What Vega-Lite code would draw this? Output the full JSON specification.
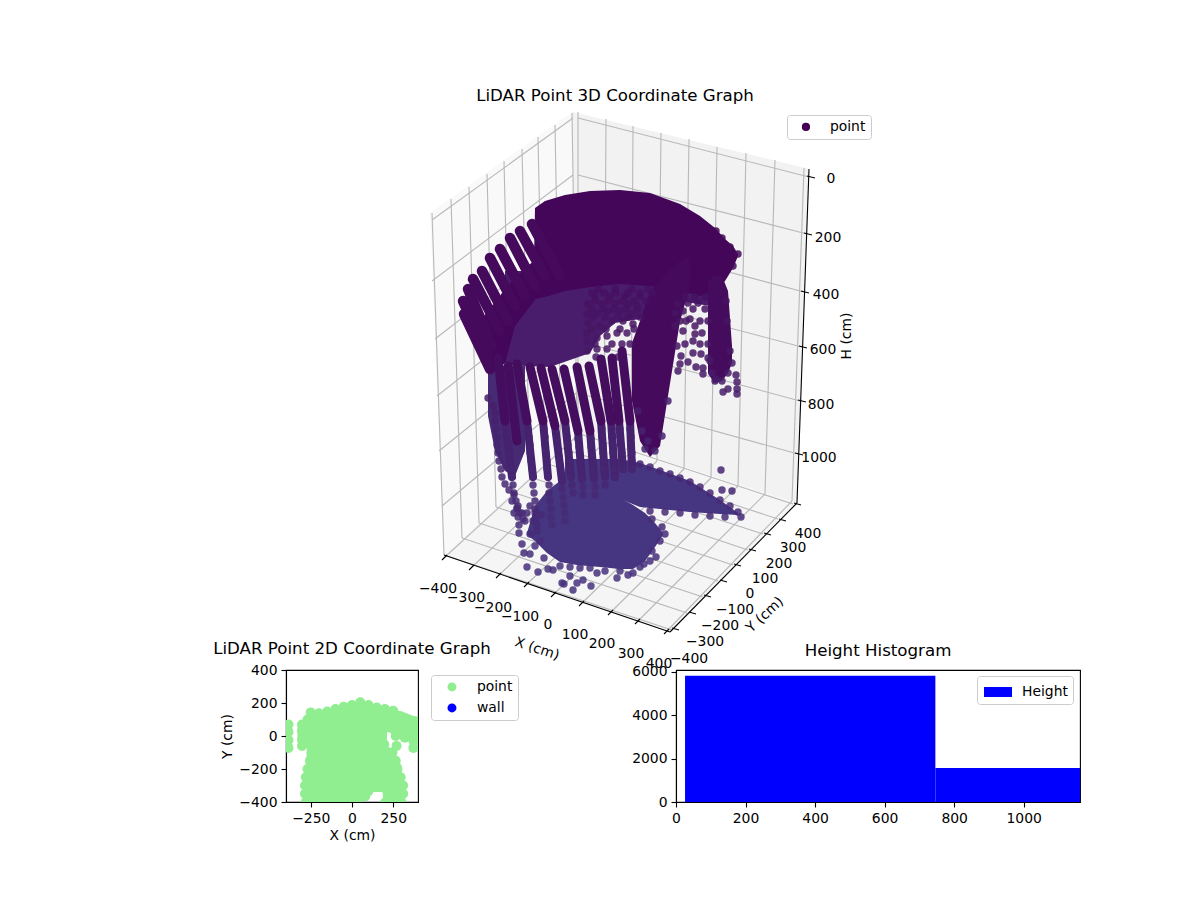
{
"$schema":"https://vega.github.io/schema/vega-lite/v6.json",
"background":"white",
"padding":{"left":212,"top":88,"right":100,"bottom":40},
"config":{"font":"DejaVu Sans","view":{"stroke":"black","strokeWidth":1.1},
"title":{"font":"DejaVu Sans","fontSize":16.67,"fontWeight":"normal","offset":5,"color":"black"},
"axis":{"grid":false,"domainColor":"black","domainWidth":1.1,"tickColor":"black","tickWidth":1.1,"tickSize":5,"labelFont":"DejaVu Sans","labelFontSize":13.9,"labelColor":"black","labelPadding":4,"labelOverlap":false,"labelFlush":false,"titleFont":"DejaVu Sans","titleFontSize":13.9,"titleFontWeight":"normal","titleColor":"black"},
"legend":{"fillColor":"white","strokeColor":"#cccccc","cornerRadius":3,"padding":5,"labelFont":"DejaVu Sans","labelFontSize":13.9,"labelColor":"black","title":null}},
"datasets":{
"poly":[
{"m":"left","x":430,"y":212,"y2":212},{"m":"left","x":444,"y":202,"y2":554},{"m":"left","x":572,"y":111,"y2":437},{"m":"left","x":577,"y":432,"y2":432},
{"m":"right","x":572,"y":111,"y2":111},{"m":"right","x":577,"y":112,"y2":432},{"m":"right","x":797,"y":165,"y2":502},{"m":"right","x":809,"y":168,"y2":168},
{"m":"floor","x":444,"y":554,"y2":554},{"m":"floor","x":577,"y":432,"y2":599},{"m":"floor","x":670,"y":462,"y2":631},{"m":"floor","x":797,"y":502,"y2":502}],
"mass":[
{"m":"lobe","x":565,"y":458,"y2":492},{"m":"lobe","x":590,"y":458,"y2":492},{"m":"lobe","x":620,"y":458,"y2":498},{"m":"lobe","x":640,"y":462,"y2":506},{"m":"lobe","x":660,"y":469,"y2":508},{"m":"lobe","x":690,"y":480,"y2":511},{"m":"lobe","x":720,"y":499,"y2":513},{"m":"lobe","x":738,"y":512,"y2":514},
{"m":"blob","x":527,"y":532,"y2":534},{"m":"blob","x":535,"y":505,"y2":540},{"m":"blob","x":547,"y":490,"y2":552},{"m":"blob","x":560,"y":480,"y2":561},{"m":"blob","x":577,"y":480,"y2":564},{"m":"blob","x":600,"y":485,"y2":566},{"m":"blob","x":620,"y":497,"y2":568},{"m":"blob","x":633,"y":504,"y2":568},{"m":"blob","x":645,"y":512,"y2":560},{"m":"blob","x":655,"y":522,"y2":546},{"m":"blob","x":663,"y":532,"y2":534},
{"m":"low","x":488,"y":370,"y2":415},{"m":"low","x":495,"y":365,"y2":450},{"m":"low","x":505,"y":365,"y2":470},{"m":"low","x":515,"y":365,"y2":475},{"m":"low","x":525,"y":365,"y2":450},
{"m":"mid","x":505,"y":270,"y2":364},{"m":"mid","x":550,"y":270,"y2":366},{"m":"mid","x":590,"y":270,"y2":352},{"m":"mid","x":600,"y":270,"y2":335},{"m":"mid","x":615,"y":270,"y2":322},{"m":"mid","x":640,"y":270,"y2":318},{"m":"mid","x":680,"y":270,"y2":300},{"m":"mid","x":710,"y":270,"y2":305},
{"m":"dome","x":470,"y":318,"y2":335},{"m":"dome","x":478,"y":328,"y2":352},{"m":"dome","x":483,"y":318,"y2":360},{"m":"dome","x":488,"y":308,"y2":368},{"m":"dome","x":497,"y":300,"y2":368},{"m":"dome","x":505,"y":287,"y2":362},{"m":"dome","x":515,"y":278,"y2":325},{"m":"dome","x":525,"y":267,"y2":312},{"m":"dome","x":534,"y":260,"y2":300},{"m":"dome","x":535,"y":207,"y2":298},{"m":"dome","x":545,"y":200,"y2":296},{"m":"dome","x":565,"y":194,"y2":290},{"m":"dome","x":590,"y":190,"y2":286},{"m":"dome","x":620,"y":189,"y2":283},{"m":"dome","x":650,"y":192,"y2":285},{"m":"dome","x":680,"y":203,"y2":290},{"m":"dome","x":700,"y":215,"y2":295},{"m":"dome","x":715,"y":227,"y2":290},{"m":"dome","x":725,"y":238,"y2":280},{"m":"dome","x":733,"y":245,"y2":267},{"m":"dome","x":738,"y":253,"y2":255},
{"m":"band","x":708,"y":280,"y2":372},{"m":"band","x":714,"y":275,"y2":382},{"m":"band","x":722,"y":275,"y2":380},{"m":"band","x":728,"y":290,"y2":372},{"m":"band","x":732,"y":345,"y2":362},
{"m":"col","x":632,"y":342,"y2":400},{"m":"col","x":640,"y":320,"y2":440},{"m":"col","x":650,"y":290,"y2":456},{"m":"col","x":660,"y":280,"y2":445},{"m":"col","x":668,"y":270,"y2":395},{"m":"col","x":680,"y":260,"y2":320},{"m":"col","x":690,"y":255,"y2":285}],
"grid":[
{"x":432,"y":212,"x2":444,"y2":554},{"x":451,"y":198,"x2":462,"y2":537},{"x":469,"y":186,"x2":479,"y2":522},{"x":487,"y":173,"x2":496,"y2":506},{"x":504,"y":160,"x2":512,"y2":491},{"x":522,"y":148,"x2":530,"y2":476},{"x":538,"y":136,"x2":545,"y2":462},{"x":555,"y":124,"x2":561,"y2":447},{"x":572,"y":112,"x2":577,"y2":432},
{"x":578,"y":111,"x2":578,"y2":434},{"x":606,"y":118,"x2":604,"y2":442},{"x":633,"y":125,"x2":631,"y2":451},{"x":661,"y":132,"x2":657,"y2":460},{"x":689,"y":138,"x2":684,"y2":468},{"x":717,"y":146,"x2":711,"y2":477},{"x":746,"y":152,"x2":738,"y2":485},{"x":775,"y":159,"x2":765,"y2":493},{"x":804,"y":167,"x2":792,"y2":500},
{"x":432,"y":219,"x2":573,"y2":117},{"x":432,"y":280,"x2":573,"y2":174},{"x":435,"y":338,"x2":573,"y2":231},{"x":437,"y":395,"x2":574,"y2":287},{"x":439,"y":450,"x2":575,"y2":340},{"x":442,"y":505,"x2":576,"y2":392},
{"x":578,"y":117,"x2":809,"y2":176},{"x":578,"y":174,"x2":807,"y2":233},{"x":578,"y":231,"x2":804,"y2":291},{"x":578,"y":287,"x2":802,"y2":346},{"x":578,"y":340,"x2":800,"y2":400},{"x":578,"y":392,"x2":798,"y2":453},
{"x":445,"y":556,"x2":578,"y2":434},{"x":472,"y":566,"x2":604,"y2":442},{"x":499,"y":574,"x2":631,"y2":451},{"x":527,"y":583,"x2":657,"y2":460},{"x":554,"y":593,"x2":684,"y2":468},{"x":582,"y":602,"x2":711,"y2":477},{"x":611,"y":611,"x2":738,"y2":485},{"x":638,"y":620,"x2":765,"y2":493},{"x":667,"y":630,"x2":792,"y2":500},
{"x":444,"y":554,"x2":672,"y2":629},{"x":462,"y":537,"x2":687,"y2":612},{"x":479,"y":522,"x2":703,"y2":596},{"x":496,"y":506,"x2":718,"y2":580},{"x":512,"y":491,"x2":733,"y2":564},{"x":530,"y":476,"x2":748,"y2":549},{"x":545,"y":462,"x2":763,"y2":533},{"x":561,"y":447,"x2":778,"y2":518},{"x":577,"y":432,"x2":793,"y2":503}],
"axes":[
{"x":444,"y":554,"x2":670,"y2":631},{"x":670,"y":631,"x2":797,"y2":502},{"x":809,"y":168,"x2":797,"y2":502},
{"x":447,"y":554,"x2":442,"y2":559},{"x":474,"y":564,"x2":469,"y2":569},{"x":501,"y":572,"x2":496,"y2":577},{"x":529,"y":581,"x2":524,"y2":586},{"x":556,"y":591,"x2":551,"y2":596},{"x":584,"y":600,"x2":579,"y2":605},{"x":613,"y":609,"x2":608,"y2":614},{"x":640,"y":618,"x2":635,"y2":623},{"x":669,"y":628,"x2":664,"y2":633},
{"x":794,"y":502,"x2":801,"y2":504},{"x":779,"y":518,"x2":786,"y2":520},{"x":764,"y":532,"x2":771,"y2":534},{"x":749,"y":548,"x2":756,"y2":550},{"x":734,"y":563,"x2":741,"y2":565},{"x":720,"y":579,"x2":727,"y2":581},{"x":704,"y":594,"x2":711,"y2":596},{"x":689,"y":611,"x2":696,"y2":613},{"x":672,"y":627,"x2":679,"y2":629},
{"x":807,"y":175,"x2":815,"y2":177},{"x":804,"y":232,"x2":812,"y2":234},{"x":801,"y":290,"x2":809,"y2":292},{"x":799,"y":345,"x2":807,"y2":347},{"x":798,"y":399,"x2":806,"y2":401},{"x":795,"y":452,"x2":803,"y2":454}],
"labels":[
{"x":438,"y":588,"t":"−400"},{"x":466,"y":597,"t":"−300"},{"x":493,"y":607,"t":"−200"},{"x":520,"y":616,"t":"−100"},{"x":548,"y":624,"t":"0"},{"x":575,"y":634,"t":"100"},{"x":602,"y":643,"t":"200"},{"x":631,"y":653,"t":"300"},{"x":659,"y":663,"t":"400"},
{"x":689,"y":658,"t":"−400"},{"x":705,"y":641,"t":"−300"},{"x":720,"y":625,"t":"−200"},{"x":735,"y":609,"t":"−100"},{"x":750,"y":593,"t":"0"},{"x":765,"y":578,"t":"100"},{"x":779,"y":563,"t":"200"},{"x":793,"y":547,"t":"300"},{"x":808,"y":533,"t":"400"},
{"x":831,"y":178,"t":"0"},{"x":828,"y":237,"t":"200"},{"x":826,"y":294,"t":"400"},{"x":823,"y":349,"t":"600"},{"x":821,"y":404,"t":"800"},{"x":819,"y":457,"t":"1000"}],
"streaksL":[
{"x":532,"y":223,"x2":560,"y2":275},{"x":520,"y":230,"x2":545,"y2":275},{"x":510,"y":237,"x2":535,"y2":285},{"x":500,"y":248,"x2":525,"y2":295},{"x":490,"y":257,"x2":515,"y2":305},{"x":482,"y":270,"x2":508,"y2":320},{"x":473,"y":278,"x2":500,"y2":330},{"x":468,"y":288,"x2":492,"y2":345},{"x":463,"y":300,"x2":488,"y2":355},{"x":464,"y":313,"x2":490,"y2":368}],
"streaksF":[
{"x":498,"y":357,"x2":505,"y2":420},{"x":508,"y":365,"x2":517,"y2":440},{"x":517,"y":363,"x2":527,"y2":420},{"x":530,"y":366,"x2":543,"y2":420},{"x":541,"y":367,"x2":555,"y2":425},{"x":552,"y":368,"x2":565,"y2":420},{"x":564,"y":368,"x2":578,"y2":430},{"x":577,"y":366,"x2":590,"y2":430},{"x":589,"y":365,"x2":601,"y2":420},{"x":601,"y":358,"x2":611,"y2":420},{"x":612,"y":357,"x2":619,"y2":420},{"x":622,"y":350,"x2":630,"y2":420}],
"streaksLow":[
{"x":505,"y":420,"x2":512,"y2":476},{"x":527,"y":420,"x2":533,"y2":476},{"x":543,"y":420,"x2":548,"y2":476},{"x":555,"y":425,"x2":562,"y2":480},{"x":565,"y":420,"x2":571,"y2":476},{"x":578,"y":430,"x2":582,"y2":478},{"x":590,"y":430,"x2":594,"y2":478},{"x":601,"y":420,"x2":605,"y2":476},{"x":611,"y":420,"x2":615,"y2":476},{"x":619,"y":420,"x2":623,"y2":468},{"x":630,"y":420,"x2":632,"y2":468}],
"pts":[
{"x":519,"y":532},{"x":522,"y":543},{"x":524,"y":552},{"x":527,"y":566},{"x":538,"y":571},{"x":544,"y":557},{"x":548,"y":568},{"x":553,"y":569},{"x":562,"y":582},{"x":564,"y":583},{"x":573,"y":589},{"x":577,"y":582},{"x":583,"y":579},{"x":591,"y":585},{"x":570,"y":575},{"x":580,"y":567},{"x":597,"y":572},{"x":617,"y":577},{"x":628,"y":574},{"x":633,"y":572},{"x":644,"y":563},{"x":650,"y":560},{"x":656,"y":556},{"x":665,"y":533},{"x":530,"y":533},{"x":535,"y":520},{"x":525,"y":520},{"x":522,"y":512},{"x":517,"y":507},{"x":535,"y":545},{"x":530,"y":553},{"x":540,"y":540},{"x":537,"y":530},
{"x":560,"y":565},{"x":570,"y":566},{"x":590,"y":567},{"x":605,"y":570},{"x":620,"y":570},{"x":640,"y":566},{"x":652,"y":550},{"x":660,"y":540},{"x":662,"y":526},{"x":652,"y":518},
{"x":640,"y":463},{"x":650,"y":466},{"x":660,"y":470},{"x":670,"y":473},{"x":680,"y":477},{"x":690,"y":481},{"x":700,"y":486},{"x":710,"y":492},{"x":720,"y":499},{"x":730,"y":505},{"x":738,"y":511},{"x":650,"y":510},{"x":665,"y":511},{"x":680,"y":512},{"x":695,"y":514},{"x":710,"y":515},{"x":725,"y":516},{"x":741,"y":516},
{"x":737,"y":393},{"x":723,"y":391},{"x":728,"y":388},{"x":737,"y":388},{"x":737,"y":381},{"x":736,"y":374},{"x":715,"y":380},{"x":732,"y":362},{"x":678,"y":370},{"x":680,"y":363},{"x":688,"y":361},{"x":696,"y":366},{"x":703,"y":367},{"x":703,"y":373},{"x":681,"y":355},{"x":693,"y":352},{"x":701,"y":353},{"x":708,"y":357},{"x":677,"y":345},{"x":685,"y":343},{"x":693,"y":340},{"x":700,"y":343},{"x":708,"y":343},{"x":695,"y":333},{"x":683,"y":330},{"x":702,"y":332},{"x":680,"y":320},{"x":690,"y":318},{"x":700,"y":320},{"x":708,"y":320},{"x":683,"y":310},{"x":693,"y":308},{"x":705,"y":308},{"x":678,"y":303},{"x":721,"y":469},{"x":722,"y":489},{"x":732,"y":490},
{"x":685,"y":296},{"x":695,"y":296},{"x":705,"y":296},{"x":688,"y":302},{"x":698,"y":302},{"x":675,"y":312},{"x":686,"y":320},{"x":695,"y":325},{"x":675,"y":325},
{"x":710,"y":360},{"x":712,"y":372},{"x":716,"y":378},{"x":722,"y":380},{"x":728,"y":372},{"x":730,"y":350},{"x":727,"y":320},{"x":726,"y":300},
{"x":642,"y":430},{"x":648,"y":440},{"x":655,"y":450},{"x":662,"y":435},{"x":668,"y":400},{"x":645,"y":448},{"x":638,"y":410},
{"x":587,"y":350},{"x":587,"y":340},{"x":597,"y":348},{"x":607,"y":348},{"x":587,"y":332},{"x":597,"y":337},{"x":607,"y":335},{"x":617,"y":332},{"x":627,"y":332},{"x":588,"y":322},{"x":600,"y":325},{"x":612,"y":320},{"x":623,"y":320},{"x":633,"y":323},{"x":587,"y":313},{"x":597,"y":312},{"x":608,"y":310},{"x":620,"y":310},{"x":632,"y":313},{"x":588,"y":303},{"x":602,"y":303},{"x":615,"y":302},{"x":628,"y":303},{"x":637,"y":305},{"x":595,"y":295},{"x":610,"y":295},{"x":625,"y":295},{"x":640,"y":295},{"x":598,"y":288},{"x":615,"y":288},{"x":632,"y":288},{"x":648,"y":288},
{"x":592,"y":292},{"x":604,"y":292},{"x":616,"y":292},{"x":628,"y":292},{"x":640,"y":292},{"x":652,"y":292},{"x":595,"y":300},{"x":608,"y":300},{"x":622,"y":300},{"x":634,"y":300},{"x":646,"y":300},{"x":592,"y":308},{"x":603,"y":308},{"x":614,"y":308},{"x":626,"y":308},{"x":638,"y":308},{"x":593,"y":316},{"x":605,"y":316},{"x":618,"y":316},{"x":628,"y":316},{"x":640,"y":316},{"x":592,"y":328},{"x":606,"y":328},{"x":620,"y":328},{"x":634,"y":328},{"x":595,"y":343},{"x":612,"y":343},{"x":622,"y":343},{"x":630,"y":343},{"x":596,"y":356},{"x":618,"y":356},
{"x":506,"y":428},{"x":507,"y":436},{"x":508,"y":444},{"x":509,"y":452},{"x":510,"y":460},{"x":511,"y":468},{"x":512,"y":476},{"x":513,"y":484},{"x":514,"y":492},{"x":516,"y":500},{"x":517,"y":508},{"x":518,"y":516},{"x":519,"y":524},
{"x":528,"y":428},{"x":529,"y":436},{"x":530,"y":444},{"x":530,"y":452},{"x":531,"y":460},{"x":532,"y":468},{"x":533,"y":476},{"x":533,"y":484},{"x":534,"y":492},{"x":535,"y":500},{"x":535,"y":508},{"x":536,"y":516},{"x":537,"y":524},
{"x":544,"y":428},{"x":545,"y":436},{"x":545,"y":444},{"x":546,"y":452},{"x":547,"y":460},{"x":547,"y":468},{"x":548,"y":476},{"x":549,"y":484},{"x":549,"y":492},{"x":550,"y":500},{"x":551,"y":508},{"x":551,"y":516},{"x":552,"y":524},
{"x":556,"y":432},{"x":557,"y":440},{"x":558,"y":448},{"x":559,"y":456},{"x":560,"y":464},{"x":561,"y":472},{"x":562,"y":480},{"x":562,"y":488},{"x":563,"y":496},{"x":564,"y":504},{"x":565,"y":512},{"x":565,"y":520},
{"x":566,"y":428},{"x":567,"y":436},{"x":568,"y":444},{"x":569,"y":452},{"x":570,"y":460},{"x":570,"y":468},{"x":571,"y":476},{"x":572,"y":484},{"x":573,"y":492},
{"x":578,"y":438},{"x":579,"y":446},{"x":580,"y":454},{"x":580,"y":462},{"x":581,"y":470},{"x":582,"y":478},{"x":583,"y":486},{"x":583,"y":494},
{"x":591,"y":438},{"x":591,"y":446},{"x":592,"y":454},{"x":593,"y":462},{"x":593,"y":470},{"x":594,"y":478},{"x":595,"y":486},{"x":595,"y":494},
{"x":602,"y":428},{"x":602,"y":436},{"x":603,"y":444},{"x":603,"y":452},{"x":604,"y":460},{"x":604,"y":468},{"x":605,"y":476},{"x":605,"y":484},
{"x":612,"y":428},{"x":612,"y":436},{"x":613,"y":444},{"x":613,"y":452},{"x":614,"y":460},{"x":614,"y":468},{"x":615,"y":476},
{"x":620,"y":428},{"x":620,"y":436},{"x":621,"y":444},{"x":622,"y":452},{"x":622,"y":460},{"x":623,"y":468},
{"x":630,"y":428},{"x":631,"y":436},{"x":631,"y":444},{"x":632,"y":452},{"x":632,"y":460},{"x":632,"y":468},
{"x":488,"y":397},{"x":493,"y":405},{"x":495,"y":412},{"x":495,"y":420},{"x":496,"y":428},{"x":497,"y":436},{"x":497,"y":444},{"x":498,"y":452},{"x":499,"y":460},{"x":501,"y":468},{"x":502,"y":476},{"x":505,"y":483},{"x":509,"y":489},{"x":514,"y":494},{"x":512,"y":500},{"x":518,"y":505},{"x":520,"y":512},{"x":514,"y":512},{"x":523,"y":518},{"x":530,"y":505},{"x":535,"y":512},{"x":541,"y":514},{"x":527,"y":512},{"x":533,"y":520},
{"x":738,"y":253},{"x":733,"y":265},{"x":730,"y":246},{"x":722,"y":237},{"x":716,"y":230}],
"flatArea":[
{"g":"a","x":-275,"y":100,"y2":-400},{"g":"a","x":-250,"y":140,"y2":-400},{"g":"a","x":-100,"y":160,"y2":-400},{"g":"a","x":0,"y":185,"y2":-400},{"g":"a","x":50,"y":200,"y2":-400},{"g":"a","x":100,"y":185,"y2":-390},{"g":"a","x":112,"y":180,"y2":-340},{"g":"a","x":185,"y":165,"y2":-340},{"g":"a","x":190,"y":160,"y2":-400},{"g":"a","x":212,"y":150,"y2":-400},
{"g":"b","x":212,"y":-60,"y2":-400},{"g":"b","x":250,"y":-80,"y2":-400},{"g":"b","x":300,"y":-180,"y2":-400},
{"g":"c","x":215,"y":100,"y2":45},{"g":"c","x":238,"y":100,"y2":10},{"g":"c","x":340,"y":95,"y2":0},{"g":"c","x":400,"y":85,"y2":0},
{"g":"d","x":-330,"y":60,"y2":-40},{"g":"d","x":-280,"y":100,"y2":-40},
{"g":"e","x":205,"y":165,"y2":40},{"g":"e","x":300,"y":150,"y2":40},{"g":"e","x":400,"y":110,"y2":40}],
"flat":[
{"x":-385,"y":70},{"x":-385,"y":25},{"x":-385,"y":-25},{"x":-385,"y":-72},{"x":-303,"y":70},{"x":-303,"y":30},{"x":-303,"y":-20},{"x":-303,"y":-60},{"x":270,"y":-60},{"x":372,"y":-72},{"x":372,"y":-30},{"x":320,"y":-10},
{"x":-50,"y":178},{"x":0,"y":188},{"x":50,"y":205},{"x":100,"y":188},
{"x":-250,"y":143},{"x":-200,"y":138},{"x":-150,"y":148},{"x":-100,"y":163},{"x":150,"y":173},{"x":200,"y":163},{"x":250,"y":153},
{"x":-270,"y":100},{"x":280,"y":105},{"x":330,"y":95},{"x":385,"y":90},
{"x":-270,"y":50},{"x":230,"y":50},{"x":280,"y":50},{"x":330,"y":50},{"x":385,"y":50},
{"x":-270,"y":0},{"x":180,"y":0},{"x":265,"y":0},{"x":310,"y":10},{"x":375,"y":0},
{"x":-255,"y":-50},{"x":195,"y":-50},
{"x":-245,"y":-100},{"x":245,"y":-100},
{"x":-255,"y":-150},{"x":265,"y":-150},
{"x":-270,"y":-200},{"x":275,"y":-200},
{"x":-280,"y":-250},{"x":270,"y":-250},{"x":295,"y":-250},
{"x":-285,"y":-300},{"x":-235,"y":-300},{"x":265,"y":-300},{"x":310,"y":-300},
{"x":-285,"y":-350},{"x":-235,"y":-350},{"x":100,"y":-335},{"x":265,"y":-350},{"x":310,"y":-350},
{"x":-280,"y":-400},{"x":-230,"y":-400},{"x":-180,"y":-400},{"x":-130,"y":-400},{"x":-80,"y":-400},{"x":-30,"y":-365},{"x":30,"y":-365},{"x":80,"y":-365},{"x":200,"y":-405},{"x":250,"y":-400},{"x":300,"y":-400}],
"bars":[{"x":26,"x2":746,"c":5815},{"x":746,"x2":1162,"c":1570}]
},
"bounds":"flush",
"spacing":1,
"vconcat":[
{
"title":{"text":"LiDAR Point 3D Coordinate Graph","anchor":"middle","dx":-68,"offset":1},
"width":794,"height":563,
"view":{"stroke":null},
"encoding":{
"x":{"field":"x","type":"quantitative","axis":null,"scale":{"domain":[286,1080],"nice":false,"zero":false}},
"y":{"field":"y","type":"quantitative","axis":null,"scale":{"domain":[105,668],"nice":false,"zero":false,"reverse":true}}},
"layer":[
{"data":{"name":"poly"},"mark":{"type":"area"},"encoding":{"y2":{"field":"y2"},"fill":{"field":"m","type":"nominal","legend":null,"scale":{"domain":["left","right","floor","lobe","blob","low","mid","dome","band","col"],"range":["#f9f9f9","#f2f2f2","#f5f5f5","#463580","#463580","#472a74","#4a1c6c","#440658","#450b5c","#450a5c"]}}}},
{"data":{"name":"grid"},"mark":{"type":"rule","color":"#b8b8b8","strokeWidth":1.1},"encoding":{"x2":{"field":"x2"},"y2":{"field":"y2"}}},
{"data":{"name":"axes"},"mark":{"type":"rule","color":"black","strokeWidth":1.1},"encoding":{"x2":{"field":"x2"},"y2":{"field":"y2"}}},
{"data":{"name":"mass"},"mark":{"type":"area"},"encoding":{"y2":{"field":"y2"},"fill":{"field":"m","type":"nominal","legend":null}}},
{"data":{"name":"streaksLow"},"mark":{"type":"rule","color":"#46236f","strokeWidth":8,"strokeCap":"round"},"encoding":{"x2":{"field":"x2"},"y2":{"field":"y2"}}},
{"data":{"name":"streaksL"},"mark":{"type":"rule","color":"#450a5c","strokeWidth":10.5,"strokeCap":"round"},"encoding":{"x2":{"field":"x2"},"y2":{"field":"y2"}}},
{"data":{"name":"pts"},"mark":{"type":"point","filled":true,"size":55,"opacity":0.85},"encoding":{
"color":{"field":"y","type":"quantitative","legend":null,"scale":{"domain":[190,590],"range":["#440154","#46327e"]}},
"shape":{"datum":"point","scale":{"domain":["point"],"range":["circle"]},"legend":{"orient":"none","legendX":501,"legendY":9,"symbolFillColor":"#440154","symbolStrokeColor":"#440154","symbolOpacity":1,"symbolSize":45,"symbolOffset":7,"labelOffset":17}}}},
{"data":{"name":"streaksF"},"mark":{"type":"rule","color":"#450d5e","strokeWidth":9,"strokeCap":"round"},"encoding":{"x2":{"field":"x2"},"y2":{"field":"y2"}}},
{"data":{"name":"labels"},"mark":{"type":"text","fontSize":13.9,"font":"DejaVu Sans","color":"black","align":"center","baseline":"middle"},"encoding":{"text":{"field":"t"}}},
{"data":{"values":[{"x":537,"y":648,"t":"X (cm)"}]},"mark":{"type":"text","fontSize":13.9,"font":"DejaVu Sans","color":"black","angle":18,"align":"center","baseline":"middle"},"encoding":{"text":{"field":"t"}}},
{"data":{"values":[{"x":765,"y":614,"t":"Y (cm)"}]},"mark":{"type":"text","fontSize":13.9,"font":"DejaVu Sans","color":"black","angle":317,"align":"center","baseline":"middle"},"encoding":{"text":{"field":"t"}}},
{"data":{"values":[{"x":847,"y":335,"t":"H (cm)"}]},"mark":{"type":"text","fontSize":13.9,"font":"DejaVu Sans","color":"black","angle":270,"align":"center","baseline":"middle"},"encoding":{"text":{"field":"t"}}}
]},
{"bounds":"flush","spacing":258,"resolve":{"scale":{"color":"independent"},"legend":{"color":"independent"}},"hconcat":[
{"title":"LiDAR Point 2D Coordinate Graph","width":132,"height":132,
"encoding":{
"x":{"field":"x","type":"quantitative","title":"X (cm)","scale":{"domain":[-400,400],"nice":false},"axis":{"values":[-250,0,250]}},
"y":{"field":"y","type":"quantitative","title":"Y (cm)","scale":{"domain":[-400,400],"nice":false},"axis":{"values":[-400,-200,0,200,400]}}},
"layer":[
{"data":{"name":"flatArea"},"mark":{"type":"area","color":"#90ee90","clip":true},"encoding":{"y2":{"field":"y2"},"detail":{"field":"g"}}},
{"data":{"name":"flat"},"mark":{"type":"point","filled":true,"size":100,"opacity":1,"clip":true},"encoding":{
"color":{"datum":"point","scale":{"domain":["point","wall"],"range":["#90ee90","#0000ff"]},"legend":{"orient":"none","legendX":145,"legendY":5,"symbolType":"circle","symbolSize":80,"symbolOpacity":1,"symbolOffset":9,"labelOffset":18,"rowPadding":6}}}}
]},
{"title":"Height Histogram","width":404,"height":132,
"data":{"name":"bars"},
"mark":{"type":"bar"},
"encoding":{
"x":{"field":"x","type":"quantitative","title":null,"scale":{"domain":[0,1162],"nice":false},"axis":{"values":[0,200,400,600,800,1000],"format":"d"}},
"x2":{"field":"x2"},
"y":{"field":"c","type":"quantitative","title":null,"scale":{"domain":[0,6080],"nice":false},"axis":{"values":[0,2000,4000,6000],"format":"d"}},
"y2":{"datum":0},
"color":{"datum":"Height","scale":{"domain":["Height"],"range":["#0000ff"]},"legend":{"orient":"none","legendX":301,"legendY":6,"symbolType":"M-1.4,-0.5H1.4V0.5H-1.4Z","symbolSize":400,"symbolOffset":5,"labelOffset":13}}}}
]}
]
}
